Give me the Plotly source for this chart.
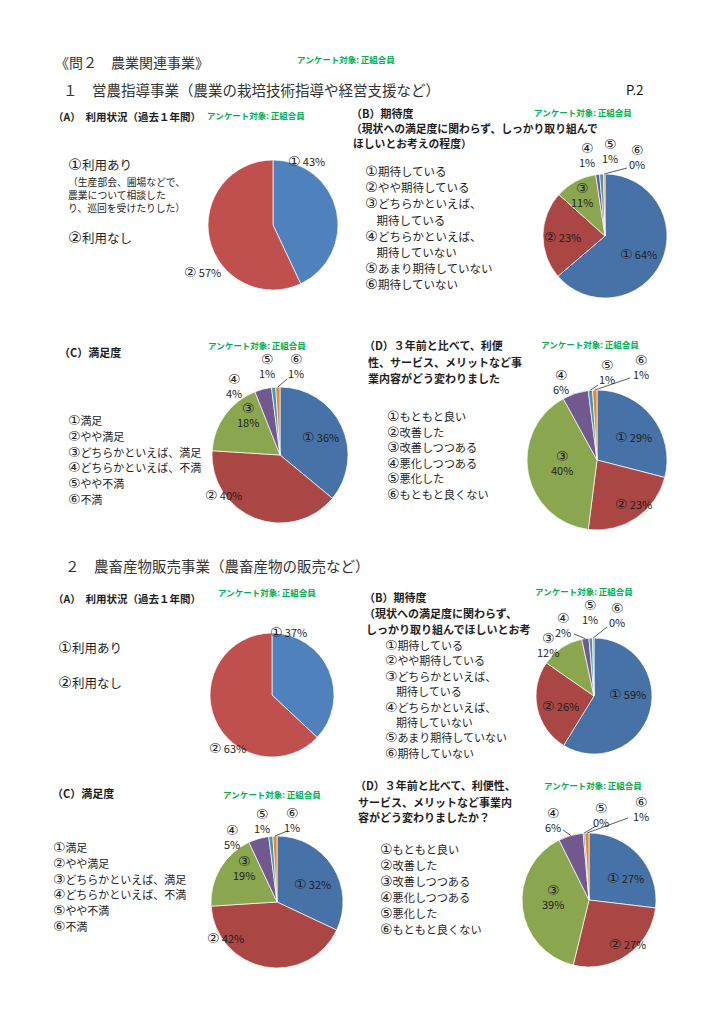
import math
import plotly.graph_objects as go

# ---------------- data ----------------
circled = ["①", "②", "③", "④", "⑤", "⑥"]

usage_items = ["①利用あり", "②利用なし"]
expect_items = ["①期待している", "②やや期待している", "③どちらかといえば、", "　期待している",
                "④どちらかといえば、", "　期待していない", "⑤あまり期待していない", "⑥期待していない"]
satis_items = ["①満足", "②やや満足", "③どちらかといえば、満足", "④どちらかといえば、不満", "⑤やや不満", "⑥不満"]
change_items = ["①もともと良い", "②改善した", "③改善しつつある", "④悪化しつつある", "⑤悪化した", "⑥もともと良くない"]

vals_1A = [43, 57]
vals_1B = [64, 23, 11, 1, 1, 0.4]
vals_1C = [36, 40, 18, 4, 1, 1]
vals_1D = [29, 23, 40, 6, 1, 1]
vals_2A = [37, 63]
vals_2B = [59, 26, 12, 2, 1, 0.4]
vals_2C = [32, 42, 19, 5, 1, 1]
vals_2D = [27, 27, 39, 6, 0.4, 1]

# ---------------- styling ----------------
W, H = 724, 1024
FONT = "Noto Sans CJK JP"
DARK = "#1e1e1e"
GREEN = "#00B050"
COL_A = ["#4F81BD", "#C0504D"]
COL_B = ["#4672A8", "#AA4643", "#8AA64E", "#71588F", "#4198AF", "#E8852F"]
TARGET = "アンケート対象: 正組合員"
CIRC_SCALE = 1.25

fig = go.Figure()


def X(x):
    return x / W


def Y(y):
    return 1 - y / H


def big_circ(s, size):
    out = ""
    for ch in s:
        if ch in circled:
            out += (f'<span style="font-family:DejaVu Sans;font-size:{size * CIRC_SCALE:.1f}px">'
                    f'{ch}</span>')
        else:
            out += ch
    return out


def text(x, y, s, size=12, color=DARK, bold=False, anchor="left"):
    fig.add_annotation(x=X(x), y=Y(y), xref="paper", yref="paper", text=big_circ(s, size),
                       showarrow=False, xanchor=anchor, yanchor="middle", borderpad=0,
                       font=dict(family=FONT, size=size, color=color,
                                 weight="bold" if bold else "normal"))


def lines(x, y0, step, items, size=12, bold=False, color=DARK):
    for k, s in enumerate(items):
        text(x, y0 + k * step, s, size=size, bold=bold, color=color)


def pie(vals, cx, cy, r, colors, offs, two, leaders=None):
    fig.add_trace(go.Pie(values=vals, sort=False, direction="clockwise", rotation=0,
                         textinfo="none", hoverinfo="skip", showlegend=False,
                         marker=dict(colors=colors[:len(vals)], line=dict(color="white", width=0.7)),
                         domain=dict(x=[X(cx - r), X(cx + r)], y=[Y(cy + r), Y(cy - r)])))
    total = sum(vals)
    cum = 0
    for i, v in enumerate(vals):
        mid = (cum + v / 2) / total
        cum += v
        lab = f"{circled[i]}<br>{round(v)}%" if two[i] else f"{circled[i]} {round(v)}%"
        dx, dy = offs[i]
        text(cx + dx, cy + dy, lab, size=11, anchor="center")
        if leaders and leaders[i]:
            th = 2 * math.pi * mid
            ex, ey = cx + r * math.sin(th), cy - r * math.cos(th)
            lx, ly = cx + leaders[i][0], cy + leaders[i][1]
            fig.add_shape(type="line", xref="paper", yref="paper",
                          x0=X(lx), y0=Y(ly), x1=X(ex), y1=Y(ey),
                          line=dict(color="#333333", width=0.8))


# ---------------- header ----------------
text(54, 62, "《問２　農業関連事業》", size=14, color="#333333")
text(296, 59, TARGET, size=8.5, color=GREEN, bold=True)
text(62, 89, "１　営農指導事業（農業の栽培技術指導や経営支援など）", size=14.5, color="#333333")
text(625, 89, "P.2", size=13, color="#111111")

# ---------------- 1 (A) ----------------
text(52, 116, "（A）  利用状況（過去１年間）", size=10.5, bold=True)
text(206, 115, TARGET, size=8.5, color=GREEN, bold=True)
text(67, 164, usage_items[0], size=12.5)
lines(67, 182, 13, ["（生産部会、圃場などで、", "農業について相談した", "り、巡回を受けたりした）"], size=9.8)
text(67, 237, usage_items[1], size=12.5)
pie(vals_1A, 273, 225, 65, COL_A, [(33, -64), (-70, 47)], [False, False])

# ---------------- 1 (B) ----------------
text(350, 113, "（B）期待度", size=11, bold=True)
text(533, 112, TARGET, size=8.5, color=GREEN, bold=True)
text(350, 128, "（現状への満足度に関わらず、しっかり取り組んで", size=10.8, bold=True)
text(352, 143, "ほしいとお考えの程度）", size=10.8, bold=True)
lines(364, 171, 16.2, expect_items, size=11.5)
pie(vals_1B, 605, 236, 62, COL_B,
    [(33, 18), (-43, 1), (-23, -41), (-18, -81), (5, -85), (32, -79)],
    [False, False, True, True, True, True],
    [None, None, None, None, None, (22, -68)])

# ---------------- 1 (C) ----------------
text(58, 352, "（C）満足度", size=11, bold=True)
text(207, 345, TARGET, size=8.5, color=GREEN, bold=True)
lines(67, 420, 15.8, satis_items, size=11)
pie(vals_1C, 280, 455, 68, COL_B,
    [(40, -18), (-57, 40), (-32, -40), (-46, -69), (-13, -89), (16, -89)],
    [False, False, True, True, True, True],
    [None, None, None, None, None, (7, -76)])

# ---------------- 1 (D) ----------------
text(363, 345, "（D）３年前と比べて、利便", size=11, bold=True)
text(367, 362, "性、サービス、メリットなど事", size=11, bold=True)
text(367, 378, "業内容がどう変わりました", size=11, bold=True)
text(540, 344, TARGET, size=8.5, color=GREEN, bold=True)
lines(386, 416, 15.6, change_items, size=11.2)
pie(vals_1D, 597, 460, 70, COL_B,
    [(36, -23), (36, 44), (-35, 3), (-36, -78), (10, -88), (44, -93)],
    [False, False, True, True, True, True],
    [None, None, None, None, (1, -75), (33, -82)])

# ---------------- section 2 header ----------------
text(64, 565, "２　農畜産物販売事業（農畜産物の販売など）", size=14.5, color="#333333")

# ---------------- 2 (A) ----------------
text(52, 598, "（A）  利用状況（過去１年間）", size=10.5, bold=True)
text(217, 592, TARGET, size=8.5, color=GREEN, bold=True)
text(57, 647, usage_items[0], size=12.5)
text(57, 682, usage_items[1], size=12.5)
pie(vals_2A, 272, 695, 62, COL_A, [(16, -63), (-44, 53)], [False, False])

# ---------------- 2 (B) ----------------
text(363, 597, "（B）期待度", size=11, bold=True)
text(534, 591, TARGET, size=8.5, color=GREEN, bold=True)
text(363, 613, "（現状への満足度に関わらず、", size=11, bold=True)
text(365, 629, "しっかり取り組んでほしいとお考", size=11, bold=True)
lines(384, 645, 15.4, expect_items, size=11)
pie(vals_2B, 594, 696, 58, COL_B,
    [(33, -2), (-34, 10), (-46, -51), (-31, -71), (-4, -84), (23, -81)],
    [False, False, True, True, True, True],
    [None, None, None, (-20, -62), None, (13, -69)])

# ---------------- 2 (C) ----------------
text(51, 793, "（C）満足度", size=11, bold=True)
text(222, 794, TARGET, size=8.5, color=GREEN, bold=True)
lines(52, 847, 15.8, satis_items, size=11)
pie(vals_2C, 277, 902, 66, COL_B,
    [(35, -18), (-52, 36), (-33, -34), (-45, -65), (-15, -81), (15, -82)],
    [False, False, True, True, True, True],
    [None, None, None, None, None, (8, -70)])

# ---------------- 2 (D) ----------------
text(354, 785, "（D）３年前と比べて、利便性、", size=11, bold=True)
text(357, 802, "サービス、メリットなど事業内", size=11, bold=True)
text(357, 817, "容がどう変わりましたか？", size=11, bold=True)
text(543, 785, TARGET, size=8.5, color=GREEN, bold=True)
lines(379, 849, 16, change_items, size=11.2)
pie(vals_2D, 589, 900, 67, COL_B,
    [(36, -22), (38, 44), (-36, -3), (-36, -80), (12, -85), (52, -91)],
    [False, False, True, True, True, True],
    [None, None, None, (-26, -70), (7, -74), (39, -82)])

fig.update_layout(width=W, height=H, margin=dict(l=0, r=0, t=0, b=0),
                  paper_bgcolor="white", plot_bgcolor="white", autosize=False,
                  font=dict(family=FONT))
fig.write_html("out.html")
